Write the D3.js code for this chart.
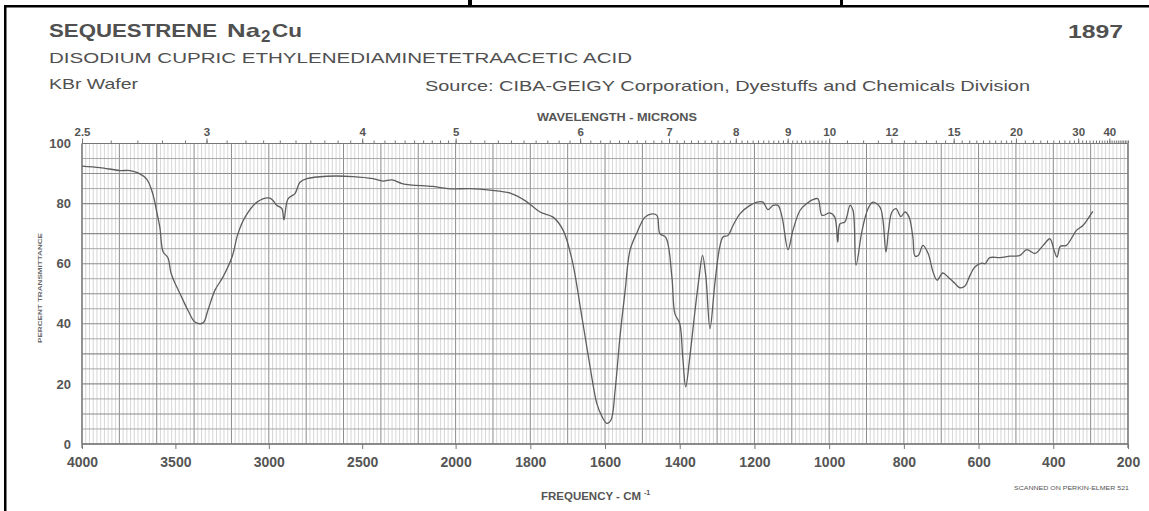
<!DOCTYPE html>
<html>
<head>
<meta charset="utf-8">
<script src="https://cdn.jsdelivr.net/npm/d3@7"></script>
<style>
body { margin: 0; background: #fff; }
svg { display: block; font-family: "Liberation Sans", Arial, sans-serif; }
</style>
</head>
<body>
<svg width="1149" height="511"></svg>
<script>
// trace: wavenumber (cm-1) and percent transmittance
var wavenumbers = [4000,3904,3797,3743,3700,3652,3620,3599,3583,3566,3540,3524,3502,3475,3433,3395,3352,3326,3288,3245,3197,3165,3127,3063,2994,2956,2930,2919,2897,2860,2833,2796,2689,2549,2442,2389,2341,2282,2121,2030,1961,1908,1854,1814,1774,1739,1712,1688,1662,1640,1622,1608,1595,1584,1573,1560,1546,1533,1514,1493,1474,1461,1453,1437,1421,1413,1400,1392,1384,1373,1359,1348,1339,1330,1319,1306,1293,1284,1271,1257,1239,1212,1193,1177,1164,1150,1137,1126,1110,1097,1078,1060,1044,1030,1019,998,985,977,971,958,944,936,928,912,896,883,864,856,848,841,832,821,808,797,786,776,770,761,749,735,722,711,696,682,663,650,637,623,610,592,583,570,543,516,489,471,449,427,409,398,390,381,365,349,338,320,307,294];
var transmittance = [92.5,92.0,91.0,91.0,90.2,88,83,77,72,64,62,57,53.5,50,44.5,40.6,40.3,44.5,51.2,55.6,62.2,70,75.5,80.5,81.8,79.4,78.3,74.6,81.6,83.3,87.1,88.3,89.1,89,88.3,87.5,87.9,86.6,85.7,84.9,85,84.5,83.5,81,77.2,75.5,71.1,61.1,42.3,25.7,13.5,9.1,6.9,8,17.9,35.6,51.2,64.5,70.5,75.5,76.6,76.1,70,68.7,55.6,43.4,40.1,29,19,29,44.5,55.6,62.8,55.6,38.4,53.4,65.5,68.9,69.4,72.8,76.6,79.4,80.5,80.5,78,79.4,79.4,75.5,64.7,71.1,77.7,80,81.3,81.6,76.1,76.9,75.5,67.2,73.3,73.9,79.4,77.7,59.5,71,78.3,80.5,78.8,74.5,63.9,71.1,77.2,78.3,75.7,77.2,75.5,68.9,62.5,62.8,66.1,63.4,57.3,54.5,56.9,55.6,53.4,52,52.5,56.1,58.9,60.2,60,62,62,62.5,62.8,64.7,63.4,66.1,68.3,64.5,62.2,65.8,66.1,68.9,71.1,72.8,75,77.4];

var freqTicks = [4000,3500,3000,2500,2000,1800,1600,1400,1200,1000,800,600,400,200];
var micronTicks = [2.5,3,4,5,6,7,8,9,10,12,15,20,30,40];
var percentTicks = [0,20,40,60,80,100];

var svg = d3.select("svg");

// chart paper: 4000-2000 at half the scale of 2000-200
var x = d3.scaleLinear().domain([4000, 2000, 200]).range([82, 455.6, 1128]);
var y = d3.scaleLinear().domain([0, 100]).range([444, 143.5]);

// scan border
svg.append("rect").attr("x", 4).attr("y", 5).attr("width", 1145).attr("height", 2.5).attr("fill", "#000");
svg.append("rect").attr("x", 4).attr("y", 5).attr("width", 2.5).attr("height", 506).attr("fill", "#000");
svg.append("rect").attr("x", 468).attr("y", 0).attr("width", 4).attr("height", 6).attr("fill", "#000");
svg.append("rect").attr("x", 840).attr("y", 0).attr("width", 3).attr("height", 6).attr("fill", "#000");

// header text
var head = svg.append("g").attr("fill", "#505050");
head.append("text").attr("x", 49).attr("y", 37).attr("font-size", 18.5).attr("font-weight", "bold")
    .attr("textLength", 168).attr("lengthAdjust", "spacingAndGlyphs").text("SEQUESTRENE");
head.append("text").attr("x", 227).attr("y", 37).attr("font-size", 18.5).attr("font-weight", "bold")
    .attr("textLength", 33).attr("lengthAdjust", "spacingAndGlyphs").text("Na");
head.append("text").attr("x", 261).attr("y", 42).attr("font-size", 17).attr("font-weight", "bold").text("2");
head.append("text").attr("x", 272).attr("y", 37).attr("font-size", 18.5).attr("font-weight", "bold")
    .attr("textLength", 30).attr("lengthAdjust", "spacingAndGlyphs").text("Cu");
head.append("text").attr("x", 49).attr("y", 63).attr("font-size", 15)
    .attr("textLength", 583).attr("lengthAdjust", "spacingAndGlyphs")
    .text("DISODIUM CUPRIC ETHYLENEDIAMINETETRAACETIC ACID");
head.append("text").attr("x", 49).attr("y", 89).attr("font-size", 15)
    .attr("textLength", 89).attr("lengthAdjust", "spacingAndGlyphs").text("KBr Wafer");
head.append("text").attr("x", 425).attr("y", 91).attr("font-size", 15)
    .attr("textLength", 605).attr("lengthAdjust", "spacingAndGlyphs")
    .text("Source:  CIBA-GEIGY Corporation, Dyestuffs and Chemicals Division");
head.append("text").attr("x", 1068).attr("y", 38).attr("font-size", 18).attr("font-weight", "bold")
    .attr("textLength", 55).attr("lengthAdjust", "spacingAndGlyphs").text("1897");

// grid
var fine = d3.range(4000, 2000, -20).concat(d3.range(2000, 199, -10));
var isMajor = d => d >= 2000 ? d % 200 == 0 : d % 100 == 0;
var grid = svg.append("g");
grid.selectAll(".vg").data(fine).enter().append("line")
    .attr("x1", d => x(d)).attr("x2", d => x(d))
    .attr("y1", y(100)).attr("y2", y(0))
    .attr("stroke", d => isMajor(d) ? "#8c8c8c" : "#c4c4c4")
    .attr("stroke-width", d => isMajor(d) ? 1 : 0.7);
grid.selectAll(".hg").data(d3.range(0, 101, 5)).enter().append("line")
    .attr("x1", x(4000)).attr("x2", x(200))
    .attr("y1", d => y(d)).attr("y2", d => y(d))
    .attr("stroke", d => d % 10 == 0 ? "#8c8c8c" : "#a0a0a0")
    .attr("stroke-width", d => d % 10 == 0 ? 1.1 : 0.9);

// frame
svg.append("line").attr("x1", x(4000)).attr("x2", x(4000)).attr("y1", y(100)).attr("y2", y(0) + 4).attr("stroke", "#777").attr("stroke-width", 1.3);
svg.append("line").attr("x1", x(200)).attr("x2", x(200)).attr("y1", y(100)).attr("y2", y(0) + 4).attr("stroke", "#777").attr("stroke-width", 1.3);
svg.append("line").attr("x1", x(4000)).attr("x2", x(200)).attr("y1", y(0)).attr("y2", y(0)).attr("stroke", "#777").attr("stroke-width", 1.3);
svg.append("line").attr("x1", x(4000)).attr("x2", x(200)).attr("y1", y(100)).attr("y2", y(100)).attr("stroke", "#777").attr("stroke-width", 1.2);

// axes
var bottomAxis = svg.append("g").attr("transform", "translate(0," + y(0) + ")")
    .call(d3.axisBottom(x).tickValues(freqTicks).tickSize(5).tickPadding(8).tickFormat(d3.format("d")));
var leftAxis = svg.append("g").attr("transform", "translate(" + x(4000) + ",0)")
    .call(d3.axisLeft(y).tickValues(percentTicks).tickSize(0).tickPadding(11));

var minor = d3.range(2.5, 10, 0.1).concat(d3.range(10, 20, 0.5), d3.range(20, 51, 1));
var minorAxis = svg.append("g").attr("transform", "translate(0," + y(100) + ")")
    .call(d3.axisTop(x).tickValues(minor.map(m => 10000 / m)).tickSize(3).tickFormat(""));
var micronAxis = svg.append("g").attr("transform", "translate(0," + y(100) + ")")
    .call(d3.axisTop(x).tickValues(micronTicks.map(m => 10000 / m)).tickSize(5).tickPadding(3)
        .tickFormat((d, i) => micronTicks[i]));

[bottomAxis, leftAxis, minorAxis, micronAxis].forEach(function(a) {
    a.select(".domain").remove();
    a.selectAll("line").attr("stroke", "#777");
    a.selectAll("text").attr("fill", "#555").attr("font-family", "Liberation Sans, Arial, sans-serif").attr("font-weight", "bold");
});
bottomAxis.selectAll("text").attr("font-size", 14);
leftAxis.selectAll("text").attr("font-size", 13);
micronAxis.selectAll("text").attr("font-size", 11.5);

// axis titles
svg.append("text").attr("x", 617).attr("y", 121).attr("text-anchor", "middle")
    .attr("font-size", 10.5).attr("font-weight", "bold").attr("fill", "#555")
    .attr("textLength", 160).attr("lengthAdjust", "spacingAndGlyphs").text("WAVELENGTH - MICRONS");
var ft = svg.append("text").attr("x", 541).attr("y", 500)
    .attr("font-size", 11).attr("font-weight", "bold").attr("fill", "#555");
ft.append("tspan").attr("textLength", 100).attr("lengthAdjust", "spacingAndGlyphs").text("FREQUENCY - CM");
ft.append("tspan").attr("dx", 3).attr("dy", -5).attr("font-size", 7).text("-1");
svg.append("text").attr("transform", "translate(42,288) rotate(-90)").attr("text-anchor", "middle")
    .attr("font-size", 6).attr("font-weight", "bold").attr("fill", "#666")
    .attr("textLength", 110).attr("lengthAdjust", "spacingAndGlyphs").text("PERCENT TRANSMITTANCE");
svg.append("text").attr("x", 1129).attr("y", 490).attr("text-anchor", "end")
    .attr("font-size", 5.5).attr("fill", "#555")
    .attr("textLength", 115).attr("lengthAdjust", "spacingAndGlyphs").text("SCANNED ON PERKIN-ELMER 521");

// spectrum trace
var pts = wavenumbers.map((w, i) => [w, transmittance[i]]);
var line = d3.line().x(d => x(d[0])).y(d => y(d[1])).curve(d3.curveCatmullRom.alpha(0.5));
svg.append("path").datum(pts).attr("d", line)
    .attr("fill", "none").attr("stroke", "#5e5e5e").attr("stroke-width", 1.3);
</script>
</body>
</html>
